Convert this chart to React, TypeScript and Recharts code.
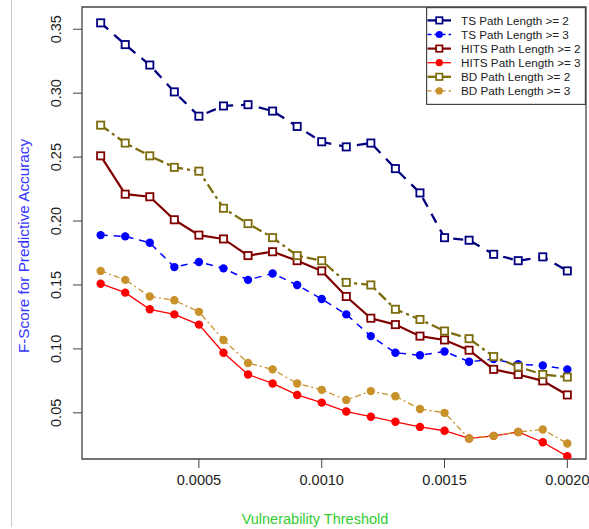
import React from 'react';
import { LineChart, Line, XAxis, YAxis, ReferenceArea } from 'recharts';

const thresholds = [
  0.0001, 0.0002, 0.0003, 0.0004, 0.0005, 0.0006, 0.0007, 0.0008, 0.0009, 0.001,
  0.0011, 0.0012, 0.0013, 0.0014, 0.0015, 0.0016, 0.0017, 0.0018, 0.0019, 0.002,
];

const tsLen2 = [0.355, 0.338, 0.322, 0.301, 0.282, 0.290, 0.291, 0.286, 0.274, 0.262, 0.258, 0.261, 0.241, 0.222, 0.187, 0.185, 0.174, 0.169, 0.172, 0.161];
const tsLen3 = [0.189, 0.188, 0.183, 0.164, 0.168, 0.163, 0.154, 0.159, 0.150, 0.139, 0.127, 0.110, 0.097, 0.095, 0.098, 0.090, 0.092, 0.088, 0.087, 0.084];
const hitsLen2 = [0.251, 0.221, 0.219, 0.201, 0.189, 0.186, 0.173, 0.176, 0.169, 0.161, 0.141, 0.124, 0.119, 0.110, 0.107, 0.099, 0.084, 0.080, 0.075, 0.064];
const hitsLen3 = [0.151, 0.144, 0.131, 0.127, 0.119, 0.097, 0.080, 0.073, 0.064, 0.058, 0.051, 0.047, 0.043, 0.039, 0.036, 0.030, 0.032, 0.035, 0.027, 0.016];
const bdLen2 = [0.275, 0.261, 0.251, 0.242, 0.239, 0.210, 0.198, 0.187, 0.173, 0.169, 0.152, 0.150, 0.131, 0.123, 0.114, 0.108, 0.094, 0.086, 0.080, 0.078];
const bdLen3 = [0.161, 0.154, 0.141, 0.138, 0.129, 0.107, 0.089, 0.084, 0.073, 0.068, 0.060, 0.067, 0.063, 0.053, 0.050, 0.030, 0.032, 0.035, 0.037, 0.026];

const xTicks = [0.0005, 0.001, 0.0015, 0.002];
const yTicks = [0.05, 0.1, 0.15, 0.2, 0.25, 0.3, 0.35];

const X_MIN = 0.000024;
const X_MAX = 0.002076;
const Y_MIN = 0.0139;
const Y_MAX = 0.3674;

const FONT = '"Liberation Sans", Arial, sans-serif';

const series = [
  { key: 'ts2', name: 'TS Path Length >= 2', color: '#000080', width: 2.3, dash: '10 8', marker: 'square' },
  { key: 'ts3', name: 'TS Path Length >= 3', color: '#0000ff', width: 1.5, dash: '7 6', marker: 'circle' },
  { key: 'hits2', name: 'HITS Path Length >= 2', color: '#800000', width: 2.2, dash: undefined, marker: 'square' },
  { key: 'hits3', name: 'HITS Path Length >= 3', color: '#ff0000', width: 1.3, dash: undefined, marker: 'circle' },
  { key: 'bd2', name: 'BD Path Length >= 2', color: '#7d6c0d', width: 2.3, dash: '10 4 3 4', marker: 'square' },
  { key: 'bd3', name: 'BD Path Length >= 3', color: '#c8912a', width: 1.3, dash: '6 3 2 3', marker: 'circle' },
];

const data = thresholds.map((t, i) => ({
  t,
  ts2: tsLen2[i],
  ts3: tsLen3[i],
  hits2: hitsLen2[i],
  hits3: hitsLen3[i],
  bd2: bdLen2[i],
  bd3: bdLen3[i],
}));

const squareDot = (color: string) => (props: any) => {
  const { cx, cy, index } = props;
  if (cx == null || cy == null) return <g key={index} />;
  return (
    <rect key={index} x={cx - 3.6} y={cy - 3.6} width={7.2} height={7.2}
      fill="#fff" stroke={color} strokeWidth={1.8} strokeDasharray="none" />
  );
};

const YTick = (props: any) => {
  const { y, payload } = props;
  return (
    <text transform={`translate(61,${y}) rotate(-90)`} textAnchor="middle"
      fontSize={14.5} fill="#222" fontFamily={FONT}>
      {Number(payload.value).toFixed(2)}
    </text>
  );
};

// legend drawn outside recharts so it doesn't eat into the plot area
const LegendBox = () => (
  <svg width={160} height={98} style={{ position: 'absolute', left: 426, top: 7, display: 'block' }}>
    <rect x={0.6} y={0.6} width={158.8} height={96.8} fill="#fff" stroke="#444" strokeWidth={1.2} />
    {series.map((s, i) => {
      const cy = 13.4 + i * 14.1;
      return (
        <g key={s.key}>
          <line x1={1.5} x2={25} y1={cy} y2={cy} stroke={s.color} strokeWidth={s.width}
            strokeDasharray={s.marker === 'square' ? undefined : s.dash ? '4 3' : undefined} />
          {s.marker === 'square' ? (
            <rect x={13.3 - 3.2} y={cy - 3.2} width={6.4} height={6.4} fill="#fff" stroke={s.color} strokeWidth={1.7} />
          ) : (
            <circle cx={13.3} cy={cy} r={3.6} fill={s.color} />
          )}
          <text x={35} y={cy + 4.2} fontSize={11.7} fill="#222" fontFamily={FONT}>{s.name}</text>
        </g>
      );
    })}
  </svg>
);

export default function App() {
  return (
    <div style={{ position: 'absolute', left: 0, top: 0, width: 589, height: 529, background: '#fff', fontFamily: FONT }}>
      <div style={{ position: 'absolute', left: 11, top: 0, width: 1, height: 527, background: '#c8c8c8' }} />
      <LineChart width={589} height={529} data={data} margin={{ top: 7, right: 3, left: 0, bottom: 0 }}>
        <XAxis
          dataKey="t"
          type="number"
          domain={[X_MIN, X_MAX]}
          allowDataOverflow
          ticks={xTicks}
          tickFormatter={(v: number) => v.toFixed(4)}
          height={70}
          axisLine={false}
          tickSize={9}
          tickMargin={7}
          tickLine={{ stroke: '#444', strokeWidth: 1 }}
          tick={{ fontSize: 14.5, fill: '#222', fontFamily: FONT }}
          label={{
            content: () => (
              <text x={315} y={524} textAnchor="middle" fontSize={14.5} fill="#33cc33" fontFamily={FONT}>
                Vulnerability Threshold
              </text>
            ),
          }}
        />
        <YAxis
          type="number"
          domain={[Y_MIN, Y_MAX]}
          allowDataOverflow
          ticks={yTicks}
          width={82}
          axisLine={false}
          tickSize={9}
          tickLine={{ stroke: '#444', strokeWidth: 1 }}
          tick={<YTick />}
          label={{
            content: () => (
              <text transform="translate(29,246) rotate(-90)" textAnchor="middle" fontSize={15.3}
                fill="#3333ff" fontFamily={FONT}>
                F-Score for Predictive Accuracy
              </text>
            ),
          }}
        />
        <ReferenceArea x1={X_MIN} x2={X_MAX} y1={Y_MIN} y2={Y_MAX} fill="none" stroke="#444" strokeWidth={1.3} />
        {series.map((s) => (
          <Line
            key={s.key}
            dataKey={s.key}
            name={s.name}
            type="linear"
            stroke={s.color}
            strokeWidth={s.width}
            strokeDasharray={s.dash}
            dot={s.marker === 'square' ? squareDot(s.color) : { r: 4.2, fill: s.color, stroke: 'none', strokeDasharray: 'none' }}
            activeDot={false}
            isAnimationActive={false}
          />
        ))}
      </LineChart>
      <LegendBox />
    </div>
  );
}
